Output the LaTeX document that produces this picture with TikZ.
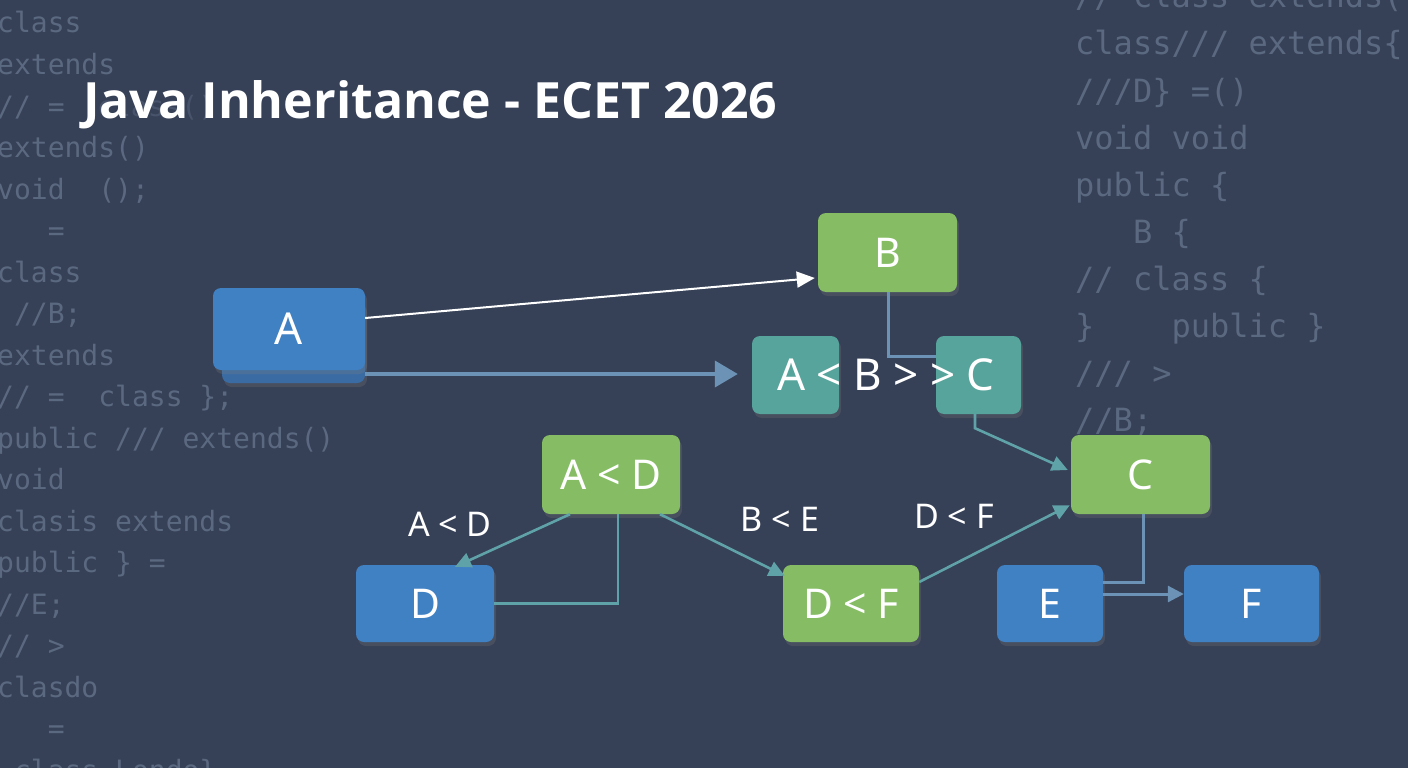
\documentclass[tikz,border=0pt]{standalone}
\usepackage{fontspec}
\setmainfont{Noto Sans}
\newfontfamily\codefont{DejaVu Sans Mono}
\newfontfamily\titlefont{Open Sans}
\usetikzlibrary{arrows.meta,shadows,calc}
\definecolor{bgc}{HTML}{364056}
\definecolor{codec}{HTML}{5B6980}
\definecolor{blueb}{HTML}{4081C4}
\definecolor{bluebk}{HTML}{3A6CA3}
\definecolor{greenb}{HTML}{86BD64}
\definecolor{tealb}{HTML}{56A49B}
\definecolor{tealln}{HTML}{5FA2A8}
\definecolor{steelln}{HTML}{6C93B6}
\tikzset{
  codel/.style={anchor=base west, inner sep=0pt, text=codec, font=\codefont\fontsize{28}{30}\selectfont},
  coder/.style={anchor=base west, inner sep=0pt, text=codec, font=\codefont\fontsize{32}{34}\selectfont},
  box/.style={rounded corners=8pt, inner sep=0pt, text=white,
     drop shadow={opacity=0.25, shadow xshift=2pt, shadow yshift=-4pt},
     font=\fontsize{41}{44}\selectfont},
  bluebox/.style={box, fill=blueb},
  greenbox/.style={box, fill=greenb},
  tealbox/.style={box, fill=tealb},
  lbl/.style={text=white, inner sep=0pt, font=\fontsize{34}{36}\selectfont},
  tealarrow/.style={draw=tealln, line width=2.6pt, -{Triangle[length=16pt,width=15pt]}},
  tealline/.style={draw=tealln, line width=2.6pt},
  steelline/.style={draw=steelln, line width=3pt},
  steelarrow/.style={draw=steelln, line width=3pt, -{Triangle[length=16pt,width=16pt]}},
}
\begin{document}
\begin{tikzpicture}[x=1pt,y=-1pt]
\fill[bgc] (0,0) rectangle (1408,768);
\useasboundingbox (0,0) rectangle (1408,768);

% left code column
\node[codel] (l1) at (-3,33) {class};
\node[codel] (l2) at (-3,74.5) {extends};
\node[codel] (l3) at (-3,116) {//~=};
\node[codel, opacity=0.5] (l3b) at (97,116) {class()};
\node[codel] (l4) at (-3,157.5) {extends()};
\node[codel] (l5) at (-3,199) {void~~();};
\node[codel] (l6) at (-3,240.5) {~~~=};
\node[codel] (l7) at (-3,282) {class};
\node[codel] (l8) at (-3,323.5) {~//B;};
\node[codel] (l9) at (-3,365) {extends};
\node[codel] (l10) at (-3,406.5) {//~=~~class~\};};
\node[codel] (l11) at (-3,448) {public~///~extends()};
\node[codel] (l12) at (-3,489.5) {void};
\node[codel] (l13) at (-3,531) {clasis~extends};
\node[codel] (l14) at (-3,572.5) {public~\}~=};
\node[codel] (l15) at (-3,614) {//E;};
\node[codel] (l16) at (-3,655.5) {//~>};
\node[codel] (l17) at (-3,697) {clasdo};
\node[codel] (l18) at (-3,738.5) {~~~=};
\node[codel] (l19) at (-3,780) {~class~Londo\}};

% right code column
\node[coder] (r1) at (1075,8) {//~class~extends()};
\node[coder] (r2) at (1075,55) {class///~extends\{};
\node[coder] (r3) at (1075,102) {///D\}~=()};
\node[coder] (r4) at (1075,149) {void~void};
\node[coder] (r5) at (1075,196) {public~\{};
\node[coder] (r6) at (1075,243) {~~~B~\{};
\node[coder] (r7) at (1075,290) {//~class~\{};
\node[coder] (r8) at (1075,337) {\}~~~~public~\}};
\node[coder] (r9) at (1075,384) {///~>};
\node[coder] (r10) at (1075,431) {//B;};

% title
\node[anchor=base west, inner sep=0pt, text=white, font=\titlefont\bfseries\fontsize{50}{52}\selectfont] (title) at (83,118) {Java Inheritance - ECET 2026};

% nodes
\node[bluebox, fill=bluebk, minimum width=143pt, minimum height=83pt] (Aback) at (293.5,341.5) {};
\node[bluebox, minimum width=152pt, minimum height=82pt, font=\fontsize{44}{46}\selectfont] (A) at (289,329) {A};
\node[greenbox, minimum width=139pt, minimum height=79pt] (B) at (887.5,252.5) {B};
\node[tealbox, minimum width=87pt, minimum height=78pt] (TL) at (795.5,375) {};
\node[tealbox, minimum width=85pt, minimum height=78pt] (TR) at (978.5,375) {};
\node[greenbox, minimum width=139pt, minimum height=79pt] (C) at (1140.5,474.5) {C};
\node[greenbox, minimum width=138pt, minimum height=79pt] (AD) at (611,474.5) {A < D};
\node[bluebox, minimum width=138pt, minimum height=77pt] (D) at (425,603.5) {D};
\node[greenbox, minimum width=136pt, minimum height=77pt] (DF) at (851,603.5) {D < F};
\node[bluebox, minimum width=106pt, minimum height=77pt] (E) at (1050,603.5) {E};
\node[bluebox, minimum width=135pt, minimum height=77pt] (F) at (1251.5,603.5) {F};

% connectors
\draw[draw=white, line width=2pt, -{Triangle[length=18pt,width=16pt]}] ([yshift=11pt]A.east) -- ([xshift=-3pt,yshift=-25.5pt]B.west);
\draw[steelline, line width=4pt, -{Triangle[length=23pt,width=26pt]}, shorten >=14pt] ([yshift=-32.5pt]Aback.east) -- ([yshift=-32.5pt]Aback.east -| TL.west);
\draw[steelline] ([xshift=0.5pt]B.south) |- ([yshift=19pt]TR.west);
\draw[tealarrow] ([xshift=-3.5pt]TR.south) -- ++(0,14) -- ([xshift=-3pt,yshift=4.5pt]C.west);
\draw[tealarrow] ([xshift=-41pt]AD.south) -- ([xshift=30pt,yshift=-2pt]D.north);
\draw[tealline] ([xshift=7pt]AD.south) |- (D.east);
\draw[tealarrow] ([xshift=49pt]AD.south) -- ([xshift=2pt,yshift=-11pt]DF.north west);
\draw[tealarrow] ([yshift=21.5pt]DF.east) -- ([xshift=-1pt,yshift=9pt]C.south west);
\draw[steelline] ([xshift=2.5pt]C.south) |- ([yshift=21.5pt]E.east);
\draw[steelarrow] ([yshift=9.5pt]E.east) -- ([yshift=9.5pt]F.west);

% label text across teal boxes
\node[text=white, inner sep=0pt, font=\fontsize{44}{46}\selectfont] (ABC) at (886,375) {A < B > > C};

% edge labels
\node[lbl] (lAD) at (450,524) {A < D};
\node[lbl] (lBE) at (780,519) {B < E};
\node[lbl] (lDF) at (954,516) {D < F};
\end{tikzpicture}
\end{document}
